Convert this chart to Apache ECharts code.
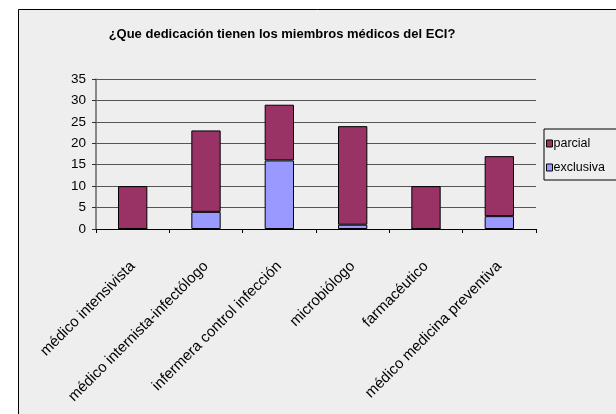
<!DOCTYPE html>
<html><head><meta charset="utf-8">
<script src="https://cdn.jsdelivr.net/npm/echarts@6/dist/echarts.min.js"></script>
<style>html,body{margin:0;padding:0;background:#fff;}#c{width:616px;height:414px;}</style>
</head><body><div id="c"></div>
<script>
const categories = ["médico intensivista","médico internista-infectólogo","infermera control infección","microbiólogo","farmacéutico","médico medicina preventiva"];
const exclusiva = [0,4,16,1,0,3];
const parcial = [10,19,13,23,10,14];
const chart = echarts.init(document.getElementById('c'));
const font = 'Liberation Sans, Arial, sans-serif';
chart.setOption({
  animation:false,
  textStyle:{fontFamily:font},
  graphic:[{type:'rect',z:-10,shape:{x:18.5,y:9.5,width:700,height:500},style:{fill:'#EEEEEE',stroke:'#000',lineWidth:1}}],
  title:{text:'¿Que dedicación tienen los miembros médicos del ECI?',left:277,textAlign:'center',top:23,
    textStyle:{fontSize:13,fontWeight:'bold',color:'#000',fontFamily:font}},
  legend:{orient:'vertical',left:544,top:129,padding:[8,20,6,2],itemGap:11,itemWidth:6,itemHeight:7,icon:'rect',
    borderColor:'#000',borderWidth:1,backgroundColor:'#EEEEEE',
    itemStyle:{borderColor:'#000',borderWidth:1},
    textStyle:{fontSize:12.5,color:'#000',padding:[0,0,0,-4]},data:['parcial','exclusiva']},
  grid:{left:96,right:80,top:79,bottom:185,containLabel:false},
  xAxis:{type:'category',data:categories,
    axisLine:{lineStyle:{color:'#000'}},
    axisTick:{show:true,length:4,lineStyle:{color:'#000'}},
    axisLabel:{rotate:45,interval:0,margin:35,fontSize:15,color:'#000'}},
  yAxis:{type:'value',min:0,max:35,interval:5,
    axisLine:{show:true,lineStyle:{color:'#666',width:1.5}},
    axisTick:{show:true,length:4,lineStyle:{color:'#333'}},
    axisLabel:{fontSize:13.5,color:'#000',margin:10},
    splitLine:{lineStyle:{color:'#555',width:1}}},
  series:[
    {name:'exclusiva',type:'bar',stack:'a',data:exclusiva,barWidth:'40%',itemStyle:{color:'#9999FF',borderColor:'#000',borderWidth:1}},
    {name:'parcial',type:'bar',stack:'a',data:parcial,barWidth:'40%',itemStyle:{color:'#993366',borderColor:'#000',borderWidth:1}}
  ]
});
</script></body></html>
